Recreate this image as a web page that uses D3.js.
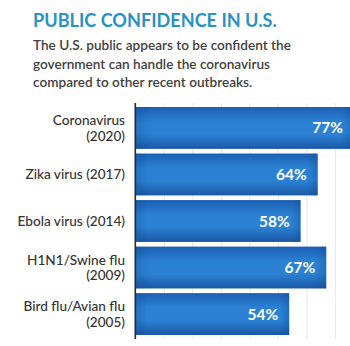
<!DOCTYPE html>
<html><head><meta charset="utf-8">
<script src="https://cdn.jsdelivr.net/npm/d3@7/dist/d3.min.js"></script>
<style>body{margin:0;background:#fff;} svg{display:block;}</style>
</head><body>
<svg id="c" width="350" height="346"></svg>
<script>
const categories = [["Coronavirus","(2020)"],["Zika virus (2017)"],["Ebola virus (2014)"],["H1N1/Swine flu","(2009)"],["Bird flu/Avian flu","(2005)"]];
const values = [77, 64, 58, 67, 54];
const gridTicks = [10, 20, 30, 40, 50, 60, 70];
const title = "PUBLIC CONFIDENCE IN U.S.";
const subtitle = ["The U.S. public appears to be confident the","government can handle the coronavirus","compared to other recent outbreaks."];

const svg = d3.select("#c");
const font = "Lato, 'Open Sans', sans-serif";
const x = d3.scaleLinear().domain([0, 10]).range([135.3, 163.8]);
const y = d3.scaleBand().domain(d3.range(values.length)).range([107, 335]).paddingInner(0.1).paddingOuter(0);

const defs = svg.append("defs");
const g1 = defs.append("linearGradient").attr("id","gv").attr("x1",0).attr("y1",0).attr("x2",0).attr("y2",1);
g1.append("stop").attr("offset","0%").attr("stop-color","#1b5fb3");
g1.append("stop").attr("offset","35%").attr("stop-color","#2b82d4");
g1.append("stop").attr("offset","65%").attr("stop-color","#2b82d4");
g1.append("stop").attr("offset","100%").attr("stop-color","#1a58a6");
const g2 = defs.append("linearGradient").attr("id","gh").attr("x1",0).attr("y1",0).attr("x2",1).attr("y2",0);
g2.append("stop").attr("offset","0%").attr("stop-color","#0d3f85").attr("stop-opacity",0.25);
g2.append("stop").attr("offset","8%").attr("stop-color","#0d3f85").attr("stop-opacity",0);
g2.append("stop").attr("offset","94%").attr("stop-color","#0d3f85").attr("stop-opacity",0);
g2.append("stop").attr("offset","100%").attr("stop-color","#0d3f85").attr("stop-opacity",0.3);

svg.append("text").attr("x",33).attr("y",27).attr("font-family",font).attr("font-weight",700)
  .attr("font-size",18.1).attr("fill","#2a92c3").text(title);
svg.append("g").selectAll("text").data(subtitle).join("text")
  .attr("x",33).attr("y",(d,i)=>50+i*18.5).attr("font-family",font).attr("font-weight",600)
  .attr("font-size",13.6).attr("fill","#3f3f3f").text(d=>d);

// gridlines
svg.append("g")
  .call(d3.axisBottom(x).tickValues(gridTicks).tickSize(236).tickFormat(""))
  .attr("transform","translate(0,103)")
  .call(g=>g.select(".domain").remove())
  .call(g=>g.selectAll(".tick line").attr("stroke","#e4e7ea").attr("stroke-width",1));

// bars
const bars = svg.append("g").selectAll("g").data(values).join("g");
bars.append("rect").attr("x",x(0)).attr("y",(d,i)=>y(i)).attr("width",d=>x(d)-x(0)).attr("height",y.bandwidth()).attr("fill","url(#gv)");
bars.append("rect").attr("x",x(0)).attr("y",(d,i)=>y(i)).attr("width",d=>x(d)-x(0)).attr("height",y.bandwidth()).attr("fill","url(#gh)");
bars.append("text").attr("x",d=>Math.min(x(d),354)-11).attr("y",(d,i)=>y(i)+y.bandwidth()/2+5.5)
  .attr("text-anchor","end").attr("font-family",font).attr("font-weight",700).attr("font-size",15.5)
  .attr("fill","#fff").text(d=>d+"%");

// category labels
const lab = svg.append("g").selectAll("text").data(categories).join("text")
  .attr("text-anchor","end").attr("font-family",font).attr("font-weight",500).attr("font-size",13.6).attr("fill","#333")
  .attr("transform",(d,i)=>`translate(125,${y(i)+y.bandwidth()/2})`);
lab.selectAll("tspan").data(d=>d.map((t,j)=>({t,j,n:d.length}))).join("tspan")
  .attr("x",0).attr("y",d=>(d.j-(d.n-1)/2)*15.5+4.8).text(d=>d.t);

// axis line
svg.append("line").attr("x1",x(0)).attr("x2",x(0)).attr("y1",103).attr("y2",339).attr("stroke","#2b2b2b").attr("stroke-width",1.6);
</script>
</body></html>
